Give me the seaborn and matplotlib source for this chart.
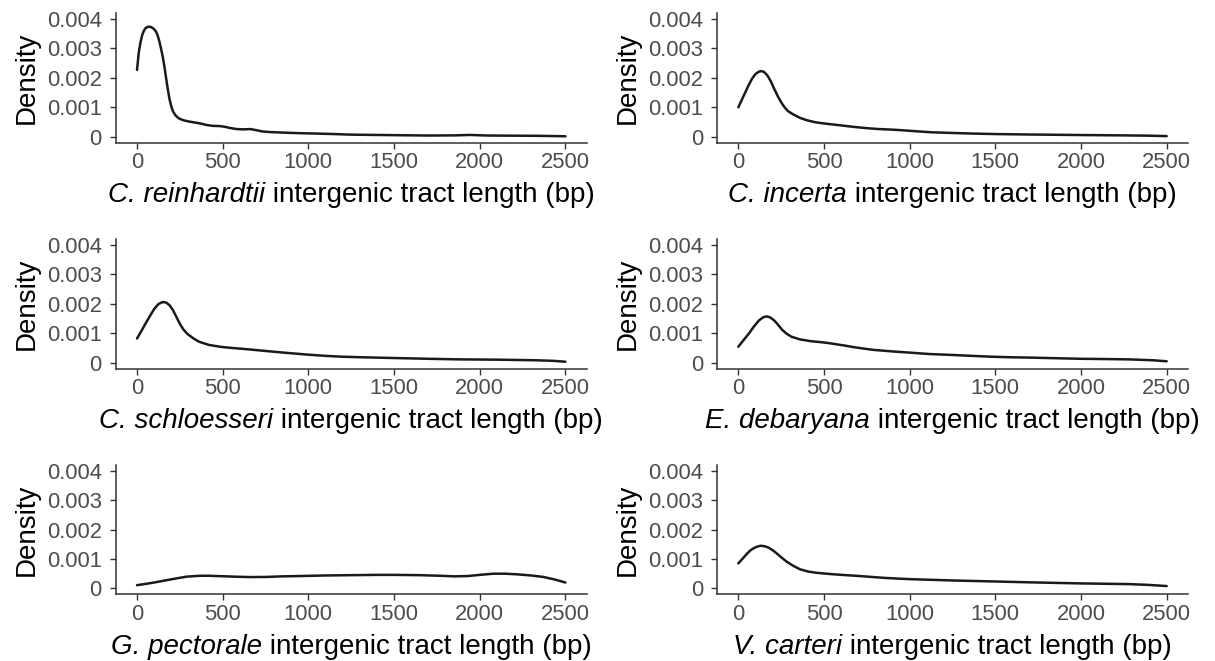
import matplotlib
matplotlib.use("Agg")
import matplotlib.pyplot as plt
import seaborn as sns
import pandas as pd
from matplotlib.ticker import FixedLocator, FixedFormatter
from matplotlib.offsetbox import TextArea, HPacker, AnnotationBbox

# Intergenic tract length densities (x in bp, density in units of 1e-3 per bp)
species = ["C. reinhardtii", "C. incerta", "C. schloesseri",
           "E. debaryana", "G. pectorale", "V. carteri"]

reinhardtii_x = [0, 10, 20, 30, 40, 50, 65, 80, 95, 110, 120, 130, 140, 150, 160,
                 170, 180, 190, 200, 210, 225, 245, 270, 300, 330, 370, 405, 440,
                 485, 510, 540, 580, 620, 660, 690, 730, 770, 850, 950, 1030,
                 1150, 1250, 1400, 1550, 1700, 1850, 1940, 2050, 2200, 2350, 2500]
reinhardtii_y = [2.27, 2.85, 3.20, 3.45, 3.60, 3.69, 3.74, 3.73, 3.68, 3.58, 3.45,
                 3.25, 3.00, 2.72, 2.38, 1.98, 1.60, 1.27, 1.03, 0.86, 0.72, 0.62,
                 0.56, 0.52, 0.49, 0.45, 0.40, 0.37, 0.36, 0.34, 0.30, 0.26, 0.25,
                 0.26, 0.23, 0.18, 0.16, 0.14, 0.12, 0.11, 0.09, 0.07, 0.06, 0.05,
                 0.04, 0.045, 0.06, 0.04, 0.035, 0.03, 0.015]

incerta_x = [0, 20, 40, 60, 80, 100, 120, 135, 150, 170, 190, 210, 230, 250, 270,
             290, 320, 360, 400, 450, 500, 560, 620, 680, 750, 820, 900, 980,
             1050, 1130, 1235, 1350, 1500, 1700, 2000, 2250, 2400, 2500]
incerta_y = [1.00, 1.25, 1.50, 1.75, 1.97, 2.13, 2.21, 2.23, 2.20, 2.08, 1.88,
             1.62, 1.38, 1.17, 1.00, 0.87, 0.76, 0.64, 0.56, 0.49, 0.45, 0.41,
             0.37, 0.33, 0.29, 0.26, 0.24, 0.21, 0.18, 0.15, 0.13, 0.11, 0.09,
             0.075, 0.057, 0.045, 0.035, 0.02]

schloesseri_x = [0, 25, 50, 75, 100, 125, 150, 170, 190, 210, 230, 250, 270, 295,
                 330, 362, 420, 496, 570, 652, 760, 875, 1000, 1098, 1200, 1321,
                 1545, 1700, 1880, 2103, 2326, 2430, 2500]
schloesseri_y = [0.82, 1.07, 1.33, 1.58, 1.82, 1.99, 2.06, 2.04, 1.95, 1.78, 1.55,
                 1.32, 1.13, 0.97, 0.82, 0.71, 0.60, 0.53, 0.49, 0.45, 0.39, 0.33,
                 0.27, 0.23, 0.20, 0.18, 0.15, 0.13, 0.11, 0.10, 0.08, 0.06, 0.03]

debaryana_x = [0, 30, 62, 90, 120, 145, 165, 185, 210, 230, 255, 280, 310, 359,
               420, 473, 520, 564, 620, 679, 740, 793, 900, 999, 1120, 1250, 1360,
               1479, 1600, 1707, 1850, 2000, 2150, 2279, 2420, 2500]
debaryana_y = [0.54, 0.76, 0.99, 1.22, 1.43, 1.54, 1.57, 1.54, 1.43, 1.30, 1.12,
               0.99, 0.88, 0.79, 0.73, 0.70, 0.67, 0.63, 0.58, 0.52, 0.47, 0.43,
               0.38, 0.34, 0.29, 0.26, 0.23, 0.20, 0.18, 0.17, 0.15, 0.13, 0.12,
               0.11, 0.08, 0.045]

pectorale_x = [0, 90, 173, 230, 290, 368, 420, 465, 520, 562, 660, 757, 850, 951,
               1100, 1250, 1400, 1500, 1650, 1768, 1850, 1930, 2000, 2080, 2150,
               2214, 2300, 2371, 2440, 2500]
pectorale_y = [0.11, 0.19, 0.28, 0.34, 0.40, 0.43, 0.43, 0.42, 0.41, 0.40, 0.385,
               0.39, 0.41, 0.42, 0.44, 0.45, 0.46, 0.46, 0.45, 0.43, 0.41, 0.42,
               0.46, 0.50, 0.50, 0.48, 0.44, 0.39, 0.30, 0.20]

carteri_x = [0, 25, 49, 70, 88, 110, 132, 155, 175, 200, 224, 250, 282, 320, 360,
             410, 457, 554, 630, 710, 846, 944, 1000, 1250, 1500, 1750, 2000,
             2279, 2393, 2500]
carteri_y = [0.85, 1.01, 1.17, 1.29, 1.36, 1.42, 1.45, 1.43, 1.39, 1.30, 1.19,
             1.06, 0.91, 0.77, 0.65, 0.57, 0.53, 0.48, 0.45, 0.42, 0.36, 0.33,
             0.315, 0.27, 0.235, 0.20, 0.17, 0.146, 0.12, 0.08]

curves = [(reinhardtii_x, reinhardtii_y), (incerta_x, incerta_y),
          (schloesseri_x, schloesseri_y), (debaryana_x, debaryana_y),
          (pectorale_x, pectorale_y), (carteri_x, carteri_y)]

y_ticks = [0, 0.001, 0.002, 0.003, 0.004]
y_tick_labels = ["0", "0.001", "0.002", "0.003", "0.004"]
x_ticks = [0, 500, 1000, 1500, 2000, 2500]
x_tick_labels = ["0", "500", "1000", "1500", "2000", "2500"]

sns.set_theme(style="ticks")
plt.rcParams["font.family"] = ["Liberation Sans", "DejaVu Sans"]

W, H = 1215, 661
fig = plt.figure(figsize=(W / 100, H / 100), dpi=100)
fig.patch.set_facecolor("white")

col_left = [115.6, 716.9]
ax_w = 471.2
row_top = [13.1, 239.0, 464.8]
ax_h = 129.5
title_size = 20

for i, (name, (xs, ys)) in enumerate(zip(species, curves)):
    r, c = divmod(i, 2)
    left = col_left[c] / W
    bottom = 1 - (row_top[r] + ax_h) / H
    ax = fig.add_axes([left, bottom, ax_w / W, ax_h / H])
    df = pd.DataFrame({"length": xs, "density": [v / 1000 for v in ys]})
    sns.lineplot(data=df, x="length", y="density", ax=ax, color="#1a1a1a",
                 linewidth=1.8)
    ax.set_xlim(-125, 2625)
    ax.set_ylim(-0.0002, 0.0042)
    ax.yaxis.set_major_locator(FixedLocator(y_ticks))
    ax.yaxis.set_major_formatter(FixedFormatter(y_tick_labels))
    ax.xaxis.set_major_locator(FixedLocator(x_ticks))
    ax.xaxis.set_major_formatter(FixedFormatter(x_tick_labels))
    for side in ("top", "right"):
        ax.spines[side].set_visible(False)
    for side in ("left", "bottom"):
        ax.spines[side].set_color("#333333")
        ax.spines[side].set_linewidth(1.1)
    ax.tick_params(axis="both", length=4.3, width=1.0, color="#333333",
                   labelcolor="#4D4D4D", labelsize=15.8)
    ax.tick_params(axis="y", pad=5.6)
    ax.tick_params(axis="x", pad=2.5)

    # x-axis title: italic species name followed by upright text
    ax.set_xlabel("")
    italic_part = TextArea(name, textprops=dict(fontsize=title_size,
                                                style="italic", color="black"))
    plain_part = TextArea(" intergenic tract length (bp)",
                          textprops=dict(fontsize=title_size, color="black"))
    label_box = HPacker(children=[italic_part, plain_part], align="baseline",
                        pad=0, sep=0)
    label_bottom = -(59.9 + 5.8) / ax_h
    ab = AnnotationBbox(label_box, (0.5, label_bottom), xycoords="axes fraction",
                        box_alignment=(0.5, 0.0), frameon=False, pad=0,
                        annotation_clip=False)
    ax.add_artist(ab)

    ax.set_ylabel("Density", fontsize=title_size, color="black")
    ax.yaxis.label.set_va("baseline")
    ax.yaxis.set_label_coords(-0.1745, 0.5)

fig.savefig("out.png", dpi=100, facecolor="white")
